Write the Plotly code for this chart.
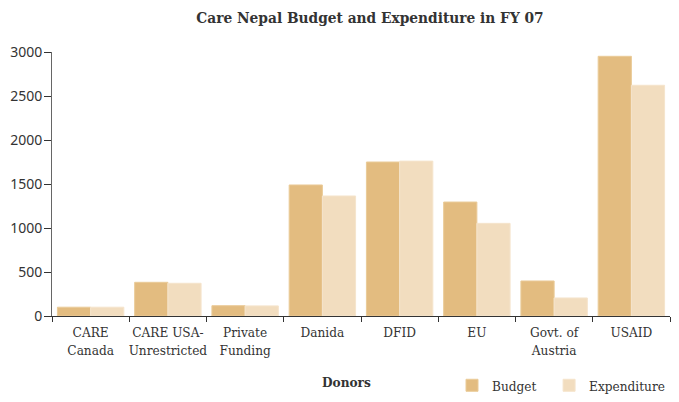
import plotly.graph_objects as go

donors = ["CARE<br>Canada", "CARE USA-<br>Unrestricted", "Private<br>Funding", "Danida",
          "DFID", "EU", "Govt. of<br>Austria", "USAID"]
budget = [100, 383, 117, 1489, 1750, 1295, 398, 2951]
expenditure = [100, 372, 115, 1364, 1760, 1053, 205, 2622]
y_ticks = [0, 500, 1000, 1500, 2000, 2500, 3000]

serif = "DejaVu Serif Condensed, Liberation Serif"
txt = "#333333"
fig = go.Figure()
fig.add_trace(go.Bar(name="Budget&nbsp;&nbsp;", x=donors, y=budget, marker_color="#E3BC80",
                     marker_line_color="#EACB98", marker_line_width=1))
fig.add_trace(go.Bar(name="Expenditure", x=donors, y=expenditure, marker_color="#F2DDBF",
                     marker_line_color="#F5E4CC", marker_line_width=1))

fig.update_layout(
    width=679, height=402,
    margin=dict(l=52, r=9, t=52, b=86),
    paper_bgcolor="white", plot_bgcolor="white",
    barmode="group", bargap=0.14, bargroupgap=0,
    title=dict(text="<b>Care Nepal Budget and Expenditure in FY 07</b>",
               x=370/679, xanchor="center", y=1-18/402, yanchor="middle",
               font=dict(family=serif, size=15.3, color=txt)),
    font=dict(family=serif, size=13.5, color=txt),
    showlegend=True,
    legend=dict(orientation="h", xref="container", yref="container",
                x=452/679, xanchor="left", y=1 - 370/402, yanchor="top",
                font=dict(family=serif, size=13.5, color=txt), traceorder="normal"),
    annotations=[dict(text="<b>Donors</b>", xref="paper", yref="paper",
                      x=(346 - 52)/618, y=-66/264, xanchor="center", yanchor="middle",
                      showarrow=False, font=dict(family=serif, size=13.5, color=txt))],
)
fig.update_xaxes(
    type="category", tickson="boundaries", ticks="outside", ticklen=5,
    tickcolor=txt, showline=True, linecolor=txt, linewidth=1,
    tickangle=0, automargin=False, ticklabelstandoff=4,
    tickfont=dict(family=serif, size=13.5, color=txt),
    showgrid=False,
)
fig.update_yaxes(
    range=[0, 3000], tickvals=y_ticks, ticks="outside", ticklen=7,
    tickcolor=txt, showline=True, linecolor="#666", linewidth=1,
    automargin=False, ticklabelstandoff=-1,
    tickfont=dict(family="Noto Sans", size=14, color=txt),
    showgrid=False, zeroline=False,
)
fig.write_html("out.html")
